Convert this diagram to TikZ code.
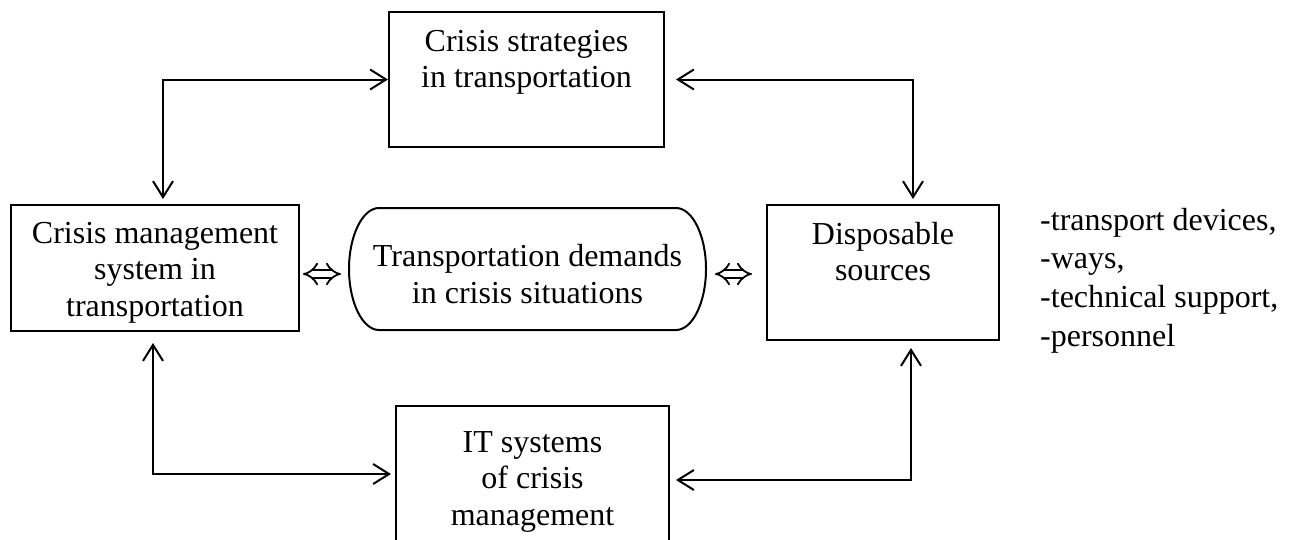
\documentclass[tikz,border=0pt]{standalone}
\usepackage{fontspec}
\setmainfont{Liberation Serif}
\usetikzlibrary{arrows.meta, positioning, calc}
\tikzstyle{block} = [rectangle, draw=black, line width=2pt, inner sep=0pt, align=center, font=\fontsize{32}{36.5}\selectfont]
\tikzstyle{link} = [line width=2pt, {Straight Barb[length=16pt,width=20pt]}-{Straight Barb[length=16pt,width=20pt]}]

\begin{document}
\begin{tikzpicture}[x=1pt, y=-1pt,
    pill/.style={block, draw=none},
    outline/.style={line width=2pt},
    dbl/.style={double, double distance=6pt, line width=1.8pt, {Implies[length=11pt,width=20pt]}-{Implies[length=11pt,width=20pt]}},
    listtext/.style={align=left, inner sep=0pt, font=\fontsize{32}{38.8}\selectfont}
  ]
    \useasboundingbox (0,0) rectangle (1292,539);

    % Boxes
    \node[block, minimum width=275pt, text height=75.5pt, text depth=59.5pt] (strat) at (526.5,79.5) {Crisis strategies\\in transportation};
    \node[block, minimum width=288pt, text height=111pt, text depth=15pt] (cms) at (155,268) {Crisis management\\system in\\transportation};
    \node[pill, minimum width=355pt, text height=94.3pt, text depth=25.7pt] (demand) at (527.5,269) {Transportation demands\\in crisis situations};
    \node[block, minimum width=232pt, text height=75.5pt, text depth=59.5pt] (src) at (883,272.5) {Disposable\\sources};
    \node[block, minimum width=273pt, text height=119pt, text depth=35pt] (its) at (532.5,483) {IT systems\\of crisis\\management};

    % oval ends of the demands box
    \draw[outline] ([xshift=30pt]demand.north west)
      .. controls ([xshift=13.4pt]demand.north west) and ([yshift=33.1pt]demand.west) .. (demand.west)
      .. controls ([yshift=-33.1pt]demand.west) and ([xshift=13.4pt]demand.south west) .. ([xshift=30pt]demand.south west)
      -- ([xshift=-30pt]demand.south east)
      .. controls ([xshift=-13.4pt]demand.south east) and ([yshift=-33.1pt]demand.east) .. (demand.east)
      .. controls ([yshift=33.1pt]demand.east) and ([xshift=-13.4pt]demand.north east) .. ([xshift=-30pt]demand.north east)
      -- cycle;

    % Resource list
    \node[listtext, anchor=base west] (list) at (1040,346.4) {-transport devices,\\-ways,\\-technical support,\\-personnel};

    % Elbow links between boxes
    \draw[link, shorten <=5pt] ([xshift=8pt]cms.north) |- (strat.west);
    \draw[link, shorten <=11pt, shorten >=5pt] (strat.east) -| ([xshift=30pt]src.north);
    \draw[link, shorten <=11pt, shorten >=4pt] ([xshift=-2pt]cms.south) |- ([yshift=9pt]its.west);
    \draw[link, shorten <=6pt, shorten >=7pt] ([yshift=3pt]its.east) -| ([xshift=28pt]src.south);

    % Double arrows to the demands
    \draw[dbl, shorten <=3pt, shorten >=8pt] ([yshift=-6pt]cms.east) -- ([yshift=-5pt]demand.west);
    \draw[dbl, shorten <=9pt, shorten >=14pt] ([yshift=-5pt]demand.east) -- ([yshift=-1.5pt]src.west);
\end{tikzpicture}
\end{document}
